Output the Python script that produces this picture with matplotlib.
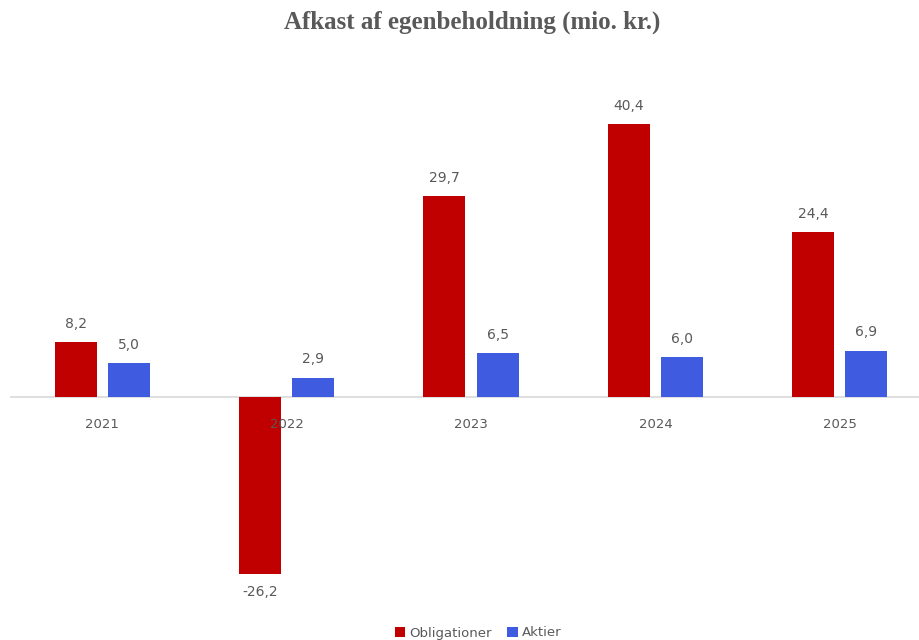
import matplotlib
matplotlib.use("Agg")
import matplotlib.pyplot as plt
import numpy as np

# ── Data ──────────────────────────────────────────────────────────────────────
years = ["2021", "2022", "2023", "2024", "2025"]
obligationer = [8.2, -26.2, 29.7, 40.4, 24.4]
aktier = [5.0, 2.9, 6.5, 6.0, 6.9]

RED = "#C00000"
BLUE = "#3F5BDF"
GREY = "#595959"

fig = plt.figure(figsize=(9.19, 6.4), dpi=100)
# axes spans 10..932 px horizontally (right category partly cut off)
ax = fig.add_axes([10 / 919, 40 / 640, 922 / 919, 507 / 640])

x = np.arange(len(years))
w = 0.228
off = 0.144
b1 = ax.bar(x - off, obligationer, w, color=RED, label="Obligationer")
b2 = ax.bar(x + off, aktier, w, color=BLUE, label="Aktier")

fmt = lambda v: f"{v:.1f}".replace(".", ",")
for bars, vals in [(b1, obligationer), (b2, aktier)]:
    for bar, v in zip(bars, vals):
        cx = bar.get_x() + bar.get_width() / 2
        if v >= 0:
            ax.annotate(fmt(v), (cx, v), xytext=(0, 8), textcoords="offset points",
                        ha="center", va="bottom", fontsize=10, color=GREY)
        else:
            ax.annotate(fmt(v), (cx, v), xytext=(0, -8), textcoords="offset points",
                        ha="center", va="top", fontsize=10, color=GREY)

ax.set_xlim(-0.5, 4.5)
ax.set_ylim(-30, 45)
ax.axhline(0, color="#D9D9D9", linewidth=1.2, zorder=0)
for s in ax.spines.values():
    s.set_visible(False)
ax.set_yticks([])
ax.set_xticks([])
for i, yr in enumerate(years):
    ax.annotate(yr, (i, 0), xytext=(0, -15), textcoords="offset points",
                ha="center", va="top", fontsize=9.5, color=GREY)

fig.text(472 / 919, 1 - 22 / 640, "Afkast af egenbeholdning (mio. kr.)",
         ha="center", va="center", fontsize=18, fontweight="bold",
         family="Liberation Serif", color=GREY)

fig.legend(handles=[b1, b2], loc="center", bbox_to_anchor=(478 / 919, 7 / 640),
           ncol=2, frameon=False, fontsize=9.5, labelcolor=GREY,
           handlelength=0.8, handleheight=0.8, handletextpad=0.3, columnspacing=1.2)

plt.savefig("out.png", dpi=100)
